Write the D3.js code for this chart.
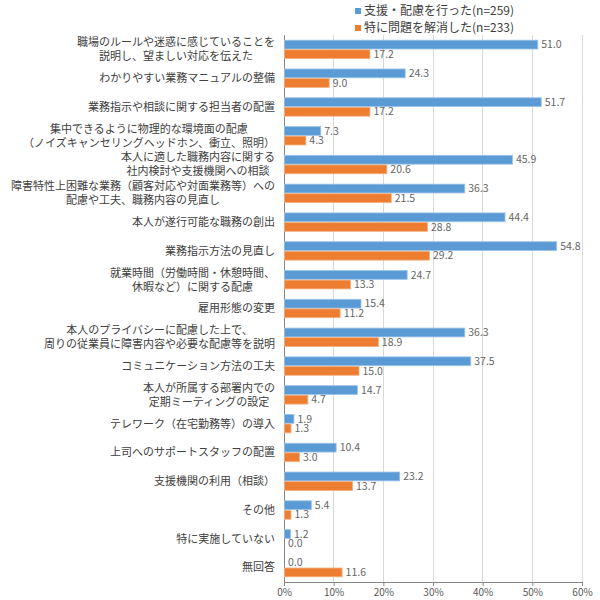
<!DOCTYPE html>
<html><head><meta charset="utf-8">
<script src="https://cdn.jsdelivr.net/npm/d3@7"></script>
<style>body{margin:0;background:#fff}svg{display:block;font-family:"Noto Sans CJK JP",sans-serif}</style>
</head><body><svg id="c" width="600" height="600"></svg>
<script>
const categories = [
 "職場のルールや迷惑に感じていることを\n説明し、望ましい対応を伝えた",
 "わかりやすい業務マニュアルの整備",
 "業務指示や相談に関する担当者の配置",
 "集中できるように物理的な環境面の配慮\n（ノイズキャンセリングヘッドホン、衝立、照明）",
 "本人に適した職務内容に関する\n社内検討や支援機関への相談",
 "障害特性上困難な業務（顧客対応や対面業務等）への\n配慮や工夫、職務内容の見直し",
 "本人が遂行可能な職務の創出",
 "業務指示方法の見直し",
 "就業時間（労働時間・休憩時間、\n休暇など）に関する配慮",
 "雇用形態の変更",
 "本人のプライバシーに配慮した上で、\n周りの従業員に障害内容や必要な配慮等を説明",
 "コミュニケーション方法の工夫",
 "本人が所属する部署内での\n定期ミーティングの設定",
 "テレワーク（在宅勤務等）の導入",
 "上司へのサポートスタッフの配置",
 "支援機関の利用（相談）",
 "その他",
 "特に実施していない",
 "無回答"
];
const seriesNames = ["支援・配慮を行った(n=259)", "特に問題を解消した(n=233)"];
const supported = [51.0,24.3,51.7,7.3,45.9,36.3,44.4,54.8,24.7,15.4,36.3,37.5,14.7,1.9,10.4,23.2,5.4,1.2,0.0];
const resolved  = [17.2,9.0,17.2,4.3,20.6,21.5,28.8,29.2,13.3,11.2,18.9,15.0,4.7,1.3,3.0,13.7,1.3,0.0,11.6];
const tickValues = [0,10,20,30,40,50,60];
const colors = ["#5B9BD5","#ED7D31"];
const strokes = ["#9DC3E6","#F4B183"];

const svg = d3.select("#c");
const pLeft = 284, pRight = 582, pTop = 35, pBottom = 582;
const x = d3.scaleLinear().domain([0,60]).range([pLeft,pRight]);
const y = d3.scaleBand().domain(d3.range(categories.length)).range([pTop,pBottom]).paddingInner(0.36).paddingOuter(0.18);
const ys = d3.scaleBand().domain([0,1]).range([0,y.bandwidth()]).paddingInner(0.08);

// gridlines
svg.append("g").selectAll("line").data(tickValues.filter(d=>d>0)).join("line")
  .attr("x1",d=>x(d)).attr("x2",d=>x(d)).attr("y1",pTop).attr("y2",pBottom)
  .attr("stroke","#D9D9D9").attr("stroke-width",1).attr("shape-rendering","crispEdges");

// bottom axis
const xAxis = d3.axisBottom(x).tickValues(tickValues).tickFormat(d=>d+"%").tickSize(4).tickSizeOuter(0);
const gx = svg.append("g").attr("transform",`translate(0,${pBottom})`).call(xAxis);
gx.select(".domain").attr("stroke","#868686");
gx.selectAll(".tick line").attr("stroke","#868686");
gx.selectAll(".tick text").attr("fill","#595959").attr("font-size",10)
  .attr("font-family","Noto Sans CJK JP");

// left axis line
svg.append("line").attr("x1",pLeft).attr("x2",pLeft).attr("y1",pTop).attr("y2",pBottom)
  .attr("stroke","#868686").attr("shape-rendering","crispEdges");

const series = [supported, resolved];
series.forEach((vals, si) => {
  const g = svg.append("g");
  g.selectAll("rect").data(vals).join("rect")
    .attr("x", pLeft + 0.5)
    .attr("y", (d,i)=> y(i) + ys(si))
    .attr("width", d=> Math.max(0, x(d)-pLeft))
    .attr("height", ys.bandwidth())
    .attr("fill", colors[si])
    .attr("stroke", d=> d>0 ? strokes[si] : "none").attr("stroke-width",0.8);
  g.selectAll("text").data(vals).join("text")
    .attr("x", d=> x(d) + 4)
    .attr("y", (d,i)=> y(i) + ys(si) + ys.bandwidth()/2)
    .attr("dy","0.35em")
    .attr("font-size",10.5).attr("fill","#666666")
    .text(d=> d.toFixed(1));
});

// category labels
const labelRight = 275;
categories.forEach((c,i)=>{
  const lines = c.split("\n");
  const cy = y(i) + y.bandwidth()/2;
  const g = svg.append("g");
  const texts = lines.map((ln,li)=> g.append("text")
     .attr("y", cy + (li - (lines.length-1)/2)*14)
     .attr("dy","0.35em").attr("font-size",11).attr("fill","#404040")
     .attr("text-anchor","middle").text(ln));
  const maxW = d3.max(texts, t=> t.node().getComputedTextLength());
  texts.forEach(t=> t.attr("x", labelRight - maxW/2));
});

// legend
const lg = svg.append("g");
seriesNames.forEach((n,i)=>{
  const ly = 11 + i*17;
  lg.append("rect").attr("x",355).attr("y",ly-3).attr("width",6).attr("height",6).attr("fill",colors[i]);
  lg.append("text").attr("x",364).attr("y",ly).attr("dy","0.35em").attr("font-size",12).attr("fill","#404040").text(n);
});
</script></body></html>
